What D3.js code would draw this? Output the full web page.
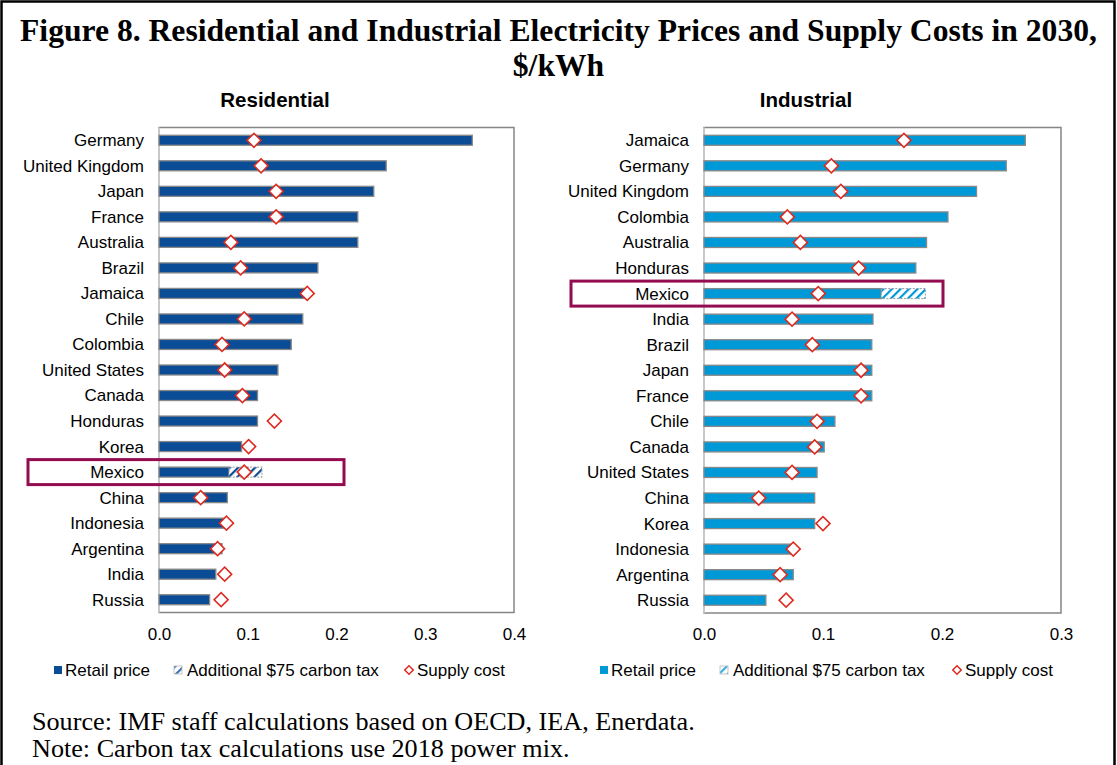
<!DOCTYPE html>
<html><head><meta charset="utf-8">
<script src="https://cdn.jsdelivr.net/npm/d3@7"></script>
<style>body{margin:0;background:#fff} svg{display:block}</style>
</head><body><svg id="c" width="1117" height="765"></svg>
<script>
// ---------- DATA ----------
const resCountries = ["Germany","United Kingdom","Japan","France","Australia","Brazil","Jamaica","Chile","Colombia","United States","Canada","Honduras","Korea","Mexico","China","Indonesia","Argentina","India","Russia"];
const resRetail = [0.353,0.256,0.242,0.224,0.224,0.179,0.164,0.162,0.149,0.134,0.111,0.111,0.093,0.079,0.077,0.073,0.071,0.064,0.057];
const resTax    = [0,0,0,0,0,0,0,0,0,0,0,0,0,0.037,0,0,0,0,0];
const resSupply = [0.107,0.115,0.132,0.132,0.081,0.092,0.167,0.096,0.071,0.074,0.094,0.130,0.101,0.096,0.047,0.076,0.066,0.074,0.070];

const indCountries = ["Jamaica","Germany","United Kingdom","Colombia","Australia","Honduras","Mexico","India","Brazil","Japan","France","Chile","Canada","United States","China","Korea","Indonesia","Argentina","Russia"];
const indRetail = [0.270,0.254,0.229,0.205,0.187,0.178,0.149,0.142,0.141,0.141,0.141,0.110,0.101,0.095,0.093,0.093,0.074,0.075,0.052];
const indTax    = [0,0,0,0,0,0,0.037,0,0,0,0,0,0,0,0,0,0,0,0];
const indSupply = [0.168,0.107,0.115,0.070,0.081,0.130,0.096,0.074,0.091,0.132,0.132,0.095,0.093,0.074,0.046,0.100,0.075,0.064,0.069];

const resTicks = [0, 0.1, 0.2, 0.3, 0.4];
const indTicks = [0, 0.1, 0.2, 0.3];
const legendLabels = ["Retail price", "Additional $75 carbon tax", "Supply cost"];
const highlight = "Mexico";

// ---------- DRAW ----------
const SANS = "'Liberation Sans', Arial, sans-serif";
const SERIF = "'Liberation Serif', 'Times New Roman', serif";
const svg = d3.select("#c");

// outer frame
svg.append("rect").attr("x",1.5).attr("y",1.5).attr("width",1113).attr("height",820)
  .attr("fill","none").attr("stroke","#000").attr("stroke-width",2.5);

const defs = svg.append("defs");
function hatch(id, color){
  const p = defs.append("pattern").attr("id",id).attr("patternUnits","userSpaceOnUse")
    .attr("width",6).attr("height",6).attr("patternTransform","rotate(45)");
  p.append("rect").attr("width",6).attr("height",6).attr("fill","#fff");
  p.append("rect").attr("x",0).attr("y",0).attr("width",2.2).attr("height",6).attr("fill",color);
}
hatch("hRes","#0a4d96");
hatch("hInd","#0099d8");

function fit(sel, target){
  const w = sel.node().getComputedTextLength();
  const fs = parseFloat(sel.attr("font-size"));
  sel.attr("font-size", fs*target/w);
  return fs*target/w;
}

// title
const t1 = svg.append("text").attr("x",558.5).attr("y",41).attr("text-anchor","middle")
  .attr("font-family",SERIF).attr("font-weight","bold").attr("font-size",28)
  .text("Figure 8. Residential and Industrial Electricity Prices and Supply Costs in 2030,");
const tfs = fit(t1, 1077);
svg.append("text").attr("x",558.5).attr("y",76).attr("text-anchor","middle")
  .attr("font-family",SERIF).attr("font-weight","bold").attr("font-size",tfs).text("$/kWh");

function panel(o){
  const g = svg.append("g");
  const x = d3.scaleLinear().domain([0, o.ticks[o.ticks.length-1]]).range([o.x0, o.x1]);
  const y = d3.scaleBand().domain(o.countries).range([o.top, o.bottom]).padding(0);
  const bh = 10;
  const data = o.countries.map((c,i)=>({c, r:o.retail[i], t:o.tax[i], s:o.supply[i]}));

  g.append("text").attr("x",o.titleX).attr("y",107).attr("text-anchor","middle")
    .attr("font-family",SANS).attr("font-weight","bold").attr("font-size",20.5).text(o.title);

  // frame
  g.append("rect").attr("x",o.x0).attr("y",o.top).attr("width",o.x1-o.x0).attr("height",o.bottom-o.top)
    .attr("fill","none").attr("stroke","#858585").attr("stroke-width",1.5);
  g.append("line").attr("x1",o.x0).attr("x2",o.x0).attr("y1",o.top).attr("y2",o.bottom)
    .attr("stroke","#c8c8c8").attr("stroke-width",2);

  // x axis
  const ax = g.append("g").attr("transform",`translate(0,${o.bottom})`)
    .call(d3.axisBottom(x).tickValues(o.ticks).tickFormat(d3.format(".1f")).tickSize(0).tickPadding(15));
  ax.select(".domain").remove();
  ax.selectAll("text").attr("font-family",SANS).attr("font-size",17).attr("fill","#000");

  // category labels
  g.selectAll(".lab").data(data).join("text")
    .attr("x",o.x0-15).attr("y",d=>y(d.c)+y.bandwidth()/2).attr("dy","0.35em")
    .attr("text-anchor","end").attr("font-family",SANS).attr("font-size",17).text(d=>d.c);

  // retail bars
  g.selectAll(".bar").data(data).join("rect")
    .attr("x",x(0)).attr("y",d=>y(d.c)+y.bandwidth()/2-bh/2)
    .attr("width",d=>x(d.r)-x(0)).attr("height",bh)
    .attr("fill",o.color).attr("stroke","#888").attr("stroke-width",1.3);
  // tax bars
  g.selectAll(".tax").data(data.filter(d=>d.t>0)).join("rect")
    .attr("x",d=>x(d.r)).attr("y",d=>y(d.c)+y.bandwidth()/2-bh/2)
    .attr("width",d=>x(d.r+d.t)-x(d.r)).attr("height",bh)
    .attr("fill",`url(#${o.hatch})`).attr("stroke","#999").attr("stroke-width",1)
    .attr("stroke-dasharray","2,1.5");
  // supply diamonds
  g.selectAll(".dia").data(data).join("path")
    .attr("d", d3.symbol(d3.symbolSquare, 98))
    .attr("transform",d=>`translate(${x(d.s)},${y(d.c)+y.bandwidth()/2}) rotate(45)`)
    .attr("fill","#fff").attr("stroke","#de2a1f").attr("stroke-width",1.6);

  // highlight rect
  const hy = y(highlight)+y.bandwidth()/2;
  g.append("rect").attr("x",o.hlX0).attr("y",hy-12.5).attr("width",o.hlX1-o.hlX0).attr("height",25)
    .attr("fill","none").attr("stroke","#940c50").attr("stroke-width",3);

  // legend
  const ly = 670;
  const lg = g.append("g").attr("font-family",SANS).attr("font-size",17);
  lg.append("rect").attr("x",o.leg[0]).attr("y",ly-4).attr("width",8).attr("height",8).attr("fill",o.color);
  lg.append("text").attr("x",o.leg[0]+11).attr("y",ly).attr("dy","0.35em").text(legendLabels[0]);
  lg.append("rect").attr("x",o.leg[1]).attr("y",ly-4).attr("width",8).attr("height",8)
    .attr("fill",`url(#${o.hatch})`).attr("stroke","#aaa").attr("stroke-width",0.8).attr("opacity",0.8);
  lg.append("text").attr("x",o.leg[1]+13).attr("y",ly).attr("dy","0.35em").text(legendLabels[1]);
  lg.append("path").attr("d", d3.symbol(d3.symbolSquare, 36))
    .attr("transform",`translate(${o.leg[2]+4},${ly}) rotate(45)`)
    .attr("fill","#fff").attr("stroke","#de2a1f").attr("stroke-width",1.5);
  lg.append("text").attr("x",o.leg[2]+12).attr("y",ly).attr("dy","0.35em").text(legendLabels[2]);
}

panel({countries:resCountries, retail:resRetail, tax:resTax, supply:resSupply, ticks:resTicks,
  x0:159, x1:514, top:127.5, bottom:612.5, color:"#0a4d96", hatch:"hRes",
  title:"Residential", titleX:275, hlX0:28, hlX1:344, leg:[54,174,405]});
panel({countries:indCountries, retail:indRetail, tax:indTax, supply:indSupply, ticks:indTicks,
  x0:704, x1:1061, top:127.5, bottom:613, color:"#0099d8", hatch:"hInd",
  title:"Industrial", titleX:806, hlX0:571, hlX1:943, leg:[600,720,953]});

// source / note
const s2 = svg.append("text").attr("x",32).attr("y",757).attr("font-family",SERIF).attr("font-size",21)
  .text("Note: Carbon tax calculations use 2018 power mix.");
const sfs = fit(s2, 538);
svg.append("text").attr("x",32).attr("y",730).attr("font-family",SERIF).attr("font-size",sfs)
  .text("Source: IMF staff calculations based on OECD, IEA, Enerdata.");
</script></body></html>
